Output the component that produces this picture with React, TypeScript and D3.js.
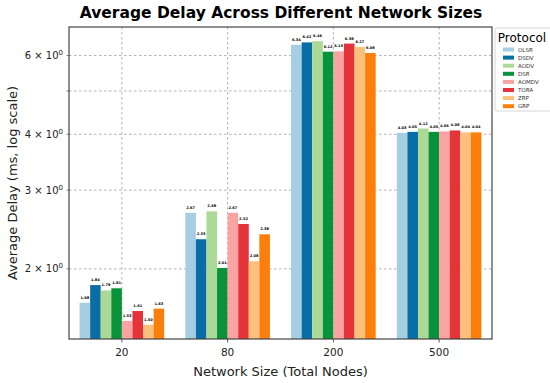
import * as d3 from 'd3';
import React, { useEffect, useRef } from 'react';

const sizes = ['20', '80', '200', '500'];
const protocols = ['OLSR', 'DSDV', 'AODV', 'DSR', 'AOMDV', 'TORA', 'ZRP', 'GRP'];
const colors = ['#a6cee3', '#0a6ea6', '#abd996', '#08923a', '#fba3a3', '#e5333a', '#fdbf7c', '#fd7f0b'];

// delay per protocol, one value per network size
const olsr = [1.68, 2.67, 6.34, 4.03];
const dsdv = [1.84, 2.33, 6.42, 4.05];
const aodv = [1.79, 2.69, 6.46, 4.12];
const dsr = [1.81, 2.01, 6.12, 4.05];
const aomdv = [1.53, 2.67, 6.13, 4.06];
const tora = [1.61, 2.52, 6.38, 4.08];
const zrp = [1.5, 2.08, 6.27, 4.04];
const grp = [1.63, 2.39, 6.08, 4.04];
const series = [olsr, dsdv, aodv, dsr, aomdv, tora, zrp, grp];

const yTicks = [2, 3, 4, 6];
const yMinor = [5];

const W = 550;
const H = 383;
const m = { left: 69, right: 492, top: 27, bottom: 339 };

const App = () => {
  const svgRef = useRef(null);

  useEffect(() => {
    const svg = d3.select(svgRef.current);
    svg.selectAll('*').remove();
    svg.style('font-family', 'DejaVu Sans');

    const x = d3.scaleLinear().domain([-0.5, 3.5]).range([m.left, m.right]);
    const y = d3.scaleLog().domain([1.394, 6.95]).range([m.bottom, m.top]);
    const step = x(1) - x(0);
    const barW = (step * 0.8) / protocols.length;

    // grid
    const grid = svg.append('g').attr('stroke', '#a8a8a8').attr('stroke-dasharray', '2.5,2.5').attr('stroke-width', 0.9);
    [...yTicks, ...yMinor].forEach((t) => {
      grid.append('line').attr('x1', m.left).attr('x2', m.right).attr('y1', y(t)).attr('y2', y(t));
    });
    sizes.forEach((_, i) => {
      grid.append('line').attr('x1', x(i)).attr('x2', x(i)).attr('y1', m.top).attr('y2', m.bottom);
    });

    // bars
    series.forEach((vals, p) => {
      const g = svg.append('g');
      vals.forEach((v, i) => {
        const bx = x(i) - (step * 0.8) / 2 + p * barW;
        g.append('rect')
          .attr('x', bx)
          .attr('y', y(v))
          .attr('width', barW)
          .attr('height', m.bottom - y(v))
          .attr('fill', colors[p]);
        g.append('text')
          .attr('x', bx + barW / 2)
          .attr('y', y(v) - 4)
          .attr('text-anchor', 'middle')
          .attr('font-size', 3.6)
          .attr('font-weight', 'bold')
          .text(v.toFixed(2));
      });
    });

    // frame
    svg.append('rect')
      .attr('x', m.left).attr('y', m.top)
      .attr('width', m.right - m.left).attr('height', m.bottom - m.top)
      .attr('fill', 'none').attr('stroke', '#444').attr('stroke-width', 1.2);

    // y ticks
    [...yTicks, ...yMinor].forEach((t) => {
      svg.append('line').attr('x1', m.left - 2.5).attr('x2', m.left)
        .attr('y1', y(t)).attr('y2', y(t)).attr('stroke', '#333').attr('stroke-width', 0.6);
    });
    yTicks.forEach((t) => {
      const tx = svg.append('text')
        .attr('x', m.left - 6).attr('y', y(t) + 3.5)
        .attr('text-anchor', 'end').attr('font-size', 10).attr('fill', '#222');
      tx.append('tspan').text(`${t} × 10`);
      tx.append('tspan').attr('font-size', 7).attr('dy', -4).text('0');
    });

    // x ticks
    sizes.forEach((s, i) => {
      svg.append('line').attr('x1', x(i)).attr('x2', x(i))
        .attr('y1', m.bottom).attr('y2', m.bottom + 3.5).attr('stroke', '#333').attr('stroke-width', 0.8);
      svg.append('text').attr('x', x(i)).attr('y', m.bottom + 17)
        .attr('text-anchor', 'middle').attr('font-size', 10.5).attr('fill', '#222').text(s);
    });

    // labels
    svg.append('text').attr('x', (m.left + m.right) / 2 + 0.5).attr('y', 17.5)
      .attr('text-anchor', 'middle').attr('font-size', 15.5).attr('font-weight', 'bold')
      .text('Average Delay Across Different Network Sizes');
    svg.append('text').attr('x', (m.left + m.right) / 2).attr('y', 376)
      .attr('text-anchor', 'middle').attr('font-size', 13).attr('fill', '#222')
      .text('Network Size (Total Nodes)');
    svg.append('text')
      .attr('transform', `translate(17,${(m.top + m.bottom) / 2}) rotate(-90)`)
      .attr('text-anchor', 'middle').attr('font-size', 13).attr('fill', '#222')
      .text('Average Delay (ms, log scale)');

    // legend
    const lg = svg.append('g').attr('transform', 'translate(495,28)');
    lg.append('rect').attr('width', 58).attr('height', 83).attr('rx', 2)
      .attr('fill', 'white').attr('stroke', '#ccc').attr('stroke-width', 0.8);
    lg.append('text').attr('x', 27).attr('y', 14).attr('text-anchor', 'middle')
      .attr('font-size', 12).text('Protocol');
    protocols.forEach((p, i) => {
      lg.append('rect').attr('x', 8).attr('y', 19.5 + i * 8.1).attr('width', 11).attr('height', 4)
        .attr('fill', colors[i]);
      lg.append('text').attr('x', 23).attr('y', 23.5 + i * 8.1).attr('font-size', 5.5)
        .attr('fill', '#333').text(p);
    });
  }, []);

  return <svg ref={svgRef} width={W} height={H} style={{ position: 'absolute', left: 0, top: 0 }} />;
};

export default App;
